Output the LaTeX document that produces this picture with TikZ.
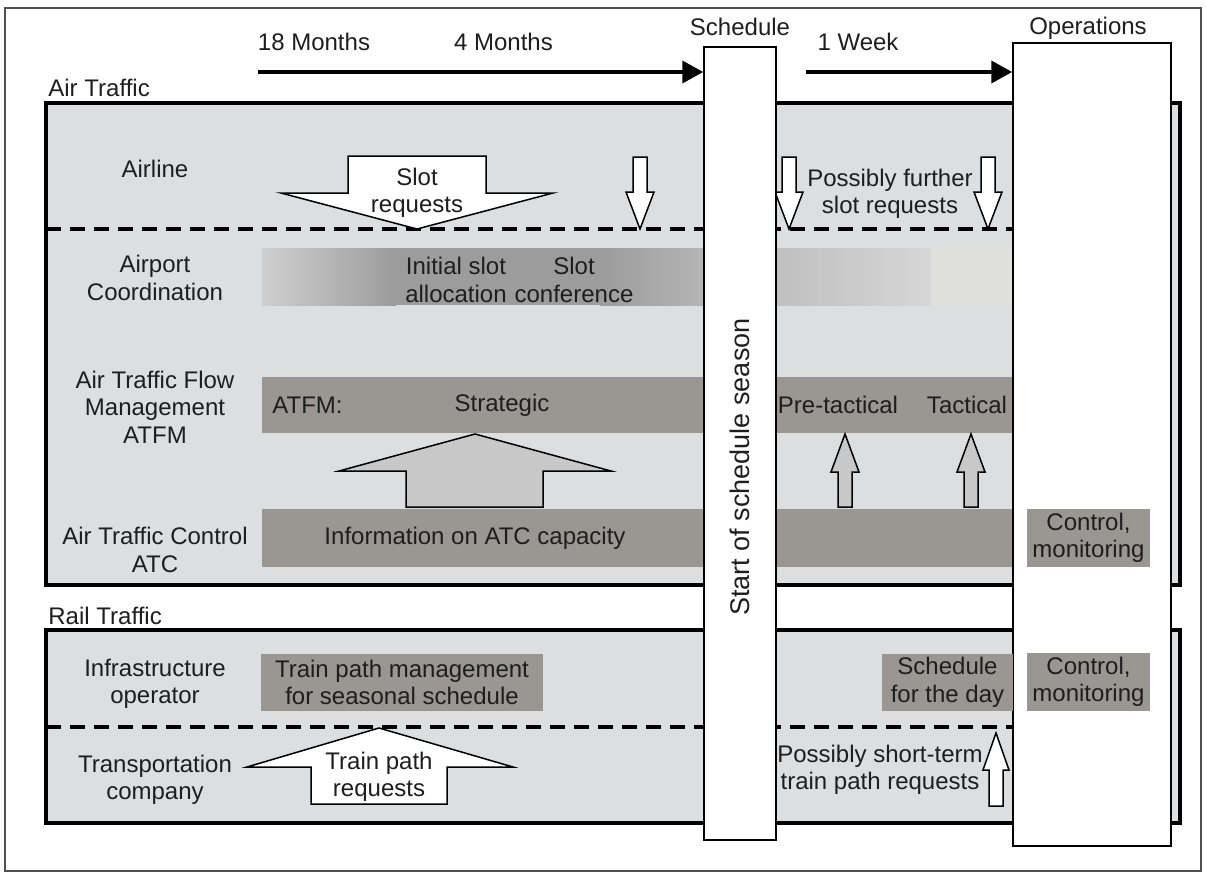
\documentclass[tikz,border=0pt]{standalone}
\usepackage{fontspec}
\setmainfont{Liberation Sans}
\usetikzlibrary{arrows.meta}
\definecolor{boxgray}{HTML}{DCDEE0}
\definecolor{bargray}{HTML}{9A9692}
\definecolor{arrgray}{HTML}{C8C8C8}
\definecolor{txtcol}{HTML}{1E1E1E}
\definecolor{framecol}{HTML}{505050}
\definecolor{fadegray}{HTML}{DFE0DC}
\begin{document}
\begin{tikzpicture}[x=0.5pt,y=-0.5pt,
  txt/.style={font=\fontsize{12}{13.75}\selectfont, text=txtcol, align=center, inner sep=0pt},
  frame/.style={draw=black, line width=2pt, fill=boxgray},
  sep/.style={draw=black, line width=2pt, dash pattern=on 7.5pt off 4.5pt},
  bar/.style={fill=bargray, draw=none},
  blk/.style={draw=black, line width=0.75pt, line join=miter},
  col/.style={draw=black, line width=0.75pt, fill=white, inner sep=0pt},
  tl/.style={draw=black, line width=2pt, -{Triangle[length=10.5pt,width=11pt]}}
]
\useasboundingbox (0,0) rectangle (1206,873);
% outer frame
\draw[framecol, line width=0.75pt] (5,8) rectangle (1201,871);
% traffic boxes
\draw[frame] (46,103) rectangle (1180,585);
\draw[frame] (46,630) rectangle (1180,823);
% airport coordination gradient bar
\fill[black!39] (262,248) rectangle (705,305);
\shade[left color=black!19, right color=black!39] (262,248) rectangle (396,305);
\shade[left color=black!39, right color=black!29] (600,248) rectangle (705,305);
\fill[fadegray] (775,248) rectangle (1013,305);
\shade[left color=black!25, right color=black!16] (775,248) rectangle (931,305);
% ATFM and ATC bars
\fill[bar] (262,377) rectangle (1013,433);
\fill[bar] (262,509) rectangle (1013,567);
% separators
\draw[sep] (46,229) -- (1013,229);
\draw[sep] (46,727) -- (1013,727);
% slot request arrows (down)
\draw[blk, fill=white] (348,156) -- (486,156) -- (486,193) -- (553,193) -- (417,229) -- (281,193) -- (348,193) -- cycle;
\draw[blk, fill=white] (633,157) -- (647,157) -- (647,192) -- (654,192) -- (640,229) -- (626,192) -- (633,192) -- cycle;
\draw[blk, fill=white] (782,157) -- (796,157) -- (796,192) -- (803,192) -- (789,229) -- (775,192) -- (782,192) -- cycle;
\draw[blk, fill=white] (981,157) -- (995,157) -- (995,192) -- (1002,192) -- (988,229) -- (974,192) -- (981,192) -- cycle;
% ATC -> ATFM arrows (up)
\draw[blk, fill=arrgray] (406,507) -- (543,507) -- (543,471) -- (611,471) -- (475,434) -- (339,471) -- (406,471) -- cycle;
\draw[blk, fill=arrgray] (838,507) -- (852,507) -- (852,472) -- (859,472) -- (845,434) -- (831,472) -- (838,472) -- cycle;
\draw[blk, fill=arrgray] (964,507) -- (978,507) -- (978,472) -- (985,472) -- (971,434) -- (957,472) -- (964,472) -- cycle;
% train path request arrows (up)
\draw[blk, fill=white] (311,804) -- (447,804) -- (447,767) -- (513,767) -- (379,728) -- (247,767) -- (311,767) -- cycle;
\draw[blk, fill=white] (989,806) -- (1003,806) -- (1003,770) -- (1009,770) -- (996,733) -- (983,770) -- (989,770) -- cycle;
% columns
\node[col, minimum width=36pt, minimum height=396.5pt] (sched) at (740,443.5) {};
\node[col, minimum width=79pt, minimum height=401.5pt] (ops) at (1092,444.5) {};
% timeline
\coordinate (t1) at (258,72);
\coordinate (t2) at (806,72);
\draw[tl] (t1) -- (sched.west |- t1);
\draw[tl] (t2) -- (ops.west |- t2);
% header labels
\node[txt, anchor=base] (m18) at (314,50) {18 Months};
\node[txt, anchor=base] (m4) at (503.5,50) {4 Months};
\node[txt, anchor=base] (schedlbl) at (740,35) {Schedule};
\node[txt, anchor=base] (wk) at (858,50) {1 Week};
\node[txt, anchor=base] (opslbl) at (1088,34) {Operations};
\node[txt, anchor=base west] (airlbl) at (48,96) {Air Traffic};
\node[txt, anchor=base west] (raillbl) at (48,624) {Rail Traffic};
% row labels
\node[txt] (airline) at (155,169) {Airline};
\node[txt] (apc) at (155,278) {Airport\\Coordination};
\node[txt] (atfmlbl) at (155,407) {Air Traffic Flow\\Management\\ATFM};
\node[txt] (atclbl) at (155,550) {Air Traffic Control\\ATC};
\node[txt] (infra) at (155,684) {Infrastructure\\operator};
\node[txt] (transp) at (155,780) {Transportation\\company};
% content texts
\node[txt] (slotreq) at (417,193) {Slot\\requests};
\node[txt] (further) at (890,194) {Possibly further\\slot requests};
\node[txt] (initial) at (456,280) {Initial slot\\allocation};
\node[txt] (conf) at (574,280) {Slot\\conference};
\node[txt, anchor=west] (atfm) at (272,405) {ATFM:};
\node[txt] (strat) at (502,405) {Strategic};
\node[txt] (pretac) at (838,405) {Pre-tactical};
\node[txt] (tac) at (967,405) {Tactical};
\node[txt] (info) at (475,538) {Information on ATC capacity};
\node[txt, bar, minimum width=61.5pt, minimum height=29pt] (ctrlair) at (1088.5,538) {Control,\\monitoring};
\node[txt, bar, minimum width=141pt, minimum height=28.5pt] (tpm) at (402,682.5) {Train path management\\for seasonal schedule};
\node[txt, bar, minimum width=65.5pt, minimum height=28.5pt] (sday) at (947.5,682.5) {Schedule\\for the day};
\node[txt, bar, minimum width=61.5pt, minimum height=29pt] (ctrlrail) at (1088.5,682) {Control,\\monitoring};
\node[txt] (tpreq) at (379,777) {Train path\\requests};
\node[txt] (shortterm) at (880,770) {Possibly short-term\\train path requests};
\node[txt, rotate=90, font=\fontsize{13.5}{15}\selectfont] (season) at (740,467) {Start of schedule season};
\end{tikzpicture}
\end{document}
